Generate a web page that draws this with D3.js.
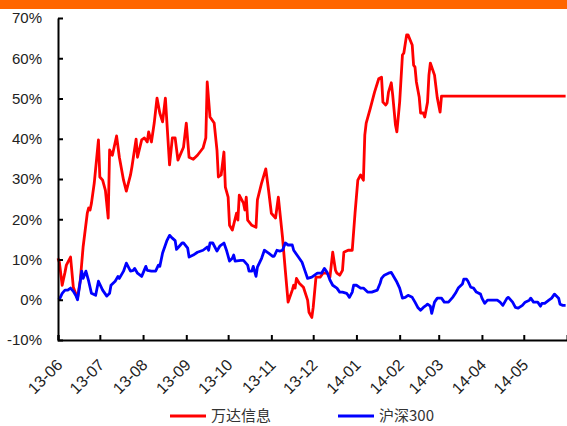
<!DOCTYPE html>
<html>
<head>
<meta charset="utf-8">
<script src="https://cdn.jsdelivr.net/npm/d3@7"></script>
<style>
  html, body { margin: 0; padding: 0; background: #fff; }
  svg { display: block; }
  .axis text { font-family: "Liberation Sans", Arial, sans-serif; font-size: 15px; fill: #222; }
  .axis.xaxis text { font-size: 16px; }
  .axis path, .axis line { stroke: #000; stroke-width: 2; }
  .legend text { font-family: "Noto Sans CJK SC", "Noto Sans", sans-serif; font-size: 15px; fill: #333; }
</style>
</head>
<body>
<svg id="chart" width="567" height="426"></svg>
<script>
// ---- data ----
const seriesNames = ["万达信息", "沪深300"];
const yTickValues = [-10, 0, 10, 20, 30, 40, 50, 60, 70];
const xTickLabels = ["13-06","13-07","13-08","13-09","13-10","13-11","13-12","14-01","14-02","14-03","14-04","14-05"];

const wandaDates = ["2013-06-01","2013-06-02","2013-06-04","2013-06-06","2013-06-07","2013-06-10","2013-06-12","2013-06-15","2013-06-17","2013-06-19","2013-06-22","2013-06-23","2013-06-24","2013-06-25","2013-06-27","2013-06-30","2013-07-01","2013-07-03","2013-07-05","2013-07-07","2013-07-08","2013-07-10","2013-07-13","2013-07-15","2013-07-18","2013-07-20","2013-07-23","2013-07-24","2013-07-27","2013-07-28","2013-07-31","2013-08-02","2013-08-04","2013-08-05","2013-08-07","2013-08-09","2013-08-11","2013-08-13","2013-08-15","2013-08-17","2013-08-20","2013-08-22","2013-08-24","2013-08-26","2013-08-30","2013-09-01","2013-09-03","2013-09-06","2013-09-09","2013-09-13","2013-09-15","2013-09-16","2013-09-18","2013-09-21","2013-09-23","2013-09-24","2013-09-26","2013-09-28","2013-09-29","2013-10-01","2013-10-02","2013-10-04","2013-10-07","2013-10-08","2013-10-09","2013-10-12","2013-10-13","2013-10-14","2013-10-15","2013-10-18","2013-10-21","2013-10-22","2013-10-25","2013-10-28","2013-10-30","2013-11-01","2013-11-04","2013-11-06","2013-11-09","2013-11-11","2013-11-13","2013-11-16","2013-11-17","2013-11-18","2013-11-19","2013-11-21","2013-11-24","2013-11-27","2013-11-28","2013-11-30","2013-12-01","2013-12-03","2013-12-06","2013-12-08","2013-12-11","2013-12-13","2013-12-15","2013-12-17","2013-12-18","2013-12-20","2013-12-22","2013-12-23","2013-12-26","2013-12-29","2013-12-31","2014-01-02","2014-01-04","2014-01-06","2014-01-07","2014-01-08","2014-01-11","2014-01-14","2014-01-17","2014-01-19","2014-01-20","2014-01-22","2014-01-23","2014-01-24","2014-01-26","2014-01-27","2014-01-29","2014-01-30","2014-02-01","2014-02-03","2014-02-04","2014-02-06","2014-02-07","2014-02-10","2014-02-11","2014-02-12","2014-02-13","2014-02-15","2014-02-16","2014-02-18","2014-02-19","2014-02-21","2014-02-22","2014-02-23","2014-02-26","2014-02-28","2014-03-02","2014-03-03","2014-05-31"];
const wandaValues = [10.3,9.3,3.6,6.8,8.6,10.6,3.1,0.4,4.9,13.1,21.5,22.8,22.3,24.0,29.0,39.7,30.5,29.7,27.2,20.3,37.2,35.9,40.7,35.4,29.7,27.0,31.0,33.0,39.9,35.4,39.7,40.2,39.2,41.7,39.2,43.9,50.1,46.4,44.2,50.1,33.5,40.2,40.2,34.7,37.9,43.9,35.4,34.9,35.9,37.7,40.2,54.1,45.4,43.9,37.2,30.5,31.0,36.7,28.0,25.5,18.5,17.3,21.5,19.8,26.0,24.0,22.3,25.5,19.8,18.5,18.0,24.8,29.0,32.5,27.2,21.5,20.3,25.5,15.5,7.3,-0.6,2.4,3.6,2.9,5.3,4.1,3.1,-0.1,-3.1,-4.4,-1.9,5.6,5.6,6.6,6.6,5.6,11.8,7.3,6.6,6.1,7.3,11.8,12.3,12.3,21.5,29.7,31.0,29.7,40.9,43.9,47.6,51.6,54.9,55.3,49.1,48.4,48.9,51.6,53.9,50.9,43.4,41.7,49.1,60.8,61.3,65.8,65.8,63.3,58.3,57.8,54.1,50.4,46.4,46.4,45.4,49.1,55.8,58.8,55.8,50.1,46.6,50.6,50.6];

const hs300Dates = ["2013-06-01","2013-06-02","2013-06-04","2013-06-06","2013-06-08","2013-06-10","2013-06-12","2013-06-14","2013-06-15","2013-06-17","2013-06-18","2013-06-19","2013-06-21","2013-06-23","2013-06-25","2013-06-28","2013-06-30","2013-07-03","2013-07-06","2013-07-08","2013-07-09","2013-07-12","2013-07-14","2013-07-15","2013-07-18","2013-07-20","2013-07-23","2013-07-25","2013-07-26","2013-07-28","2013-07-31","2013-08-03","2013-08-04","2013-08-07","2013-08-10","2013-08-12","2013-08-13","2013-08-15","2013-08-18","2013-08-20","2013-08-22","2013-08-24","2013-08-25","2013-08-27","2013-08-29","2013-08-30","2013-09-02","2013-09-03","2013-09-06","2013-09-09","2013-09-13","2013-09-16","2013-09-17","2013-09-18","2013-09-20","2013-09-23","2013-09-25","2013-09-28","2013-09-30","2013-10-02","2013-10-04","2013-10-05","2013-10-06","2013-10-10","2013-10-12","2013-10-15","2013-10-16","2013-10-18","2013-10-19","2013-10-21","2013-10-22","2013-10-25","2013-10-27","2013-10-30","2013-11-02","2013-11-03","2013-11-05","2013-11-07","2013-11-09","2013-11-11","2013-11-13","2013-11-16","2013-11-17","2013-11-20","2013-11-23","2013-11-25","2013-11-27","2013-11-30","2013-12-02","2013-12-04","2013-12-07","2013-12-09","2013-12-11","2013-12-13","2013-12-15","2013-12-18","2013-12-20","2013-12-22","2013-12-25","2013-12-27","2013-12-29","2013-12-30","2014-01-01","2014-01-04","2014-01-06","2014-01-09","2014-01-12","2014-01-16","2014-01-18","2014-01-19","2014-01-21","2014-01-24","2014-01-26","2014-01-28","2014-01-30","2014-02-01","2014-02-03","2014-02-05","2014-02-07","2014-02-10","2014-02-12","2014-02-14","2014-02-16","2014-02-18","2014-02-20","2014-02-21","2014-02-23","2014-02-24","2014-02-26","2014-02-28","2014-03-03","2014-03-05","2014-03-08","2014-03-11","2014-03-13","2014-03-15","2014-03-18","2014-03-19","2014-03-21","2014-03-22","2014-03-24","2014-03-26","2014-03-28","2014-03-31","2014-04-01","2014-04-03","2014-04-05","2014-04-08","2014-04-12","2014-04-14","2014-04-16","2014-04-19","2014-04-20","2014-04-23","2014-04-25","2014-04-27","2014-04-30","2014-05-02","2014-05-05","2014-05-06","2014-05-08","2014-05-11","2014-05-13","2014-05-14","2014-05-16","2014-05-19","2014-05-21","2014-05-23","2014-05-26","2014-05-27","2014-05-29","2014-05-31"];
const hs300Values = [0.0,0.1,1.6,2.4,2.4,2.9,2.1,0.9,0.0,4.6,7.1,5.3,7.1,4.6,1.6,1.1,4.6,2.4,0.9,1.6,3.6,4.6,5.8,5.3,7.1,9.1,7.1,7.3,7.8,6.6,5.8,8.3,7.3,7.1,7.1,8.6,8.3,11.6,14.6,16.0,15.3,14.7,12.5,13.3,14.1,14.1,12.8,10.6,11.1,11.8,12.3,13.1,12.3,14.1,14.1,12.1,13.3,14.1,12.1,9.6,10.3,11.1,9.6,9.8,9.8,8.6,7.1,7.1,8.3,5.8,8.1,10.3,12.3,11.6,10.8,10.8,12.3,12.1,12.3,14.1,13.6,13.6,12.3,10.8,9.3,7.3,5.3,5.6,6.1,6.6,6.6,7.8,6.8,4.9,3.6,2.9,1.9,1.9,1.6,0.6,1.9,3.6,3.6,2.9,2.9,1.9,1.9,2.4,4.1,5.3,6.1,6.6,6.8,5.6,4.4,2.9,0.4,0.6,1.1,0.6,-0.6,-1.9,-2.6,-1.9,-1.4,-1.1,-1.6,-3.4,-0.6,0.4,0.4,-0.6,-0.6,0.6,1.6,2.9,3.9,5.1,5.1,4.6,3.1,2.9,1.9,1.4,0.4,-0.9,-0.1,-0.1,-0.1,-0.6,-1.4,0.4,0.6,-0.6,-1.9,-2.1,-1.4,-0.6,-0.1,0.4,-0.6,-0.6,-1.6,-0.9,-0.9,-0.1,0.4,1.4,0.4,-1.1,-1.4,-1.4];

// ---- chart ----
const svg = d3.select("#chart");
const W = 567, H = 426;
const parse = d3.timeParse("%Y-%m-%d");

svg.append("rect").attr("x", 0).attr("y", 0).attr("width", W).attr("height", 9).attr("fill", "#FF6600");

const x = d3.scaleTime()
  .domain([parse("2013-06-01"), parse("2014-06-01")])
  .range([58, 567]);
const y = d3.scaleLinear().domain([-10, 70]).range([340, 18]);

const tickDates = xTickLabels.map(s => d3.timeParse("%y-%m")(s));

const line = d3.line().x(d => x(d.date)).y(d => y(d.value));
const red = wandaDates.map((d, i) => ({date: parse(d), value: wandaValues[i]}));
const blue = hs300Dates.map((d, i) => ({date: parse(d), value: hs300Values[i]}));

svg.append("path").datum(red).attr("d", line)
  .attr("fill", "none").attr("stroke", "#FF0000").attr("stroke-width", 2.8).attr("stroke-linejoin", "round");
svg.append("path").datum(blue).attr("d", line)
  .attr("fill", "none").attr("stroke", "#0000FF").attr("stroke-width", 2.8).attr("stroke-linejoin", "round");

// y axis
const yAxis = d3.axisLeft(y).tickValues(yTickValues).tickFormat(d => d + "%")
  .tickSizeInner(-5).tickSizeOuter(0).tickPadding(16);
svg.append("g").attr("class", "axis").attr("transform", "translate(58,0)").call(yAxis);

// x axis
const xAxis = d3.axisBottom(x).tickValues(tickDates).tickFormat((d, i) => xTickLabels[i])
  .tickSizeInner(-5).tickSizeOuter(-5);
const gx = svg.append("g").attr("class", "axis xaxis").attr("transform", "translate(0,340)").call(xAxis);
gx.selectAll(".tick text")
  .attr("text-anchor", "end")
  .attr("x", 0).attr("y", 0).attr("dy", "0.35em")
  .attr("transform", "translate(1,22) rotate(-45)");

// legend
const legend = svg.append("g").attr("class", "legend");
const legendItems = [
  {name: seriesNames[0], color: "#FF0000", x: 170},
  {name: seriesNames[1], color: "#0000FF", x: 338}
];
legendItems.forEach(it => {
  legend.append("line").attr("x1", it.x).attr("x2", it.x + 36).attr("y1", 416).attr("y2", 416)
    .attr("stroke", it.color).attr("stroke-width", 2.8);
  legend.append("text").attr("x", it.x + 41).attr("y", 421).text(it.name);
});
</script>
</body>
</html>
